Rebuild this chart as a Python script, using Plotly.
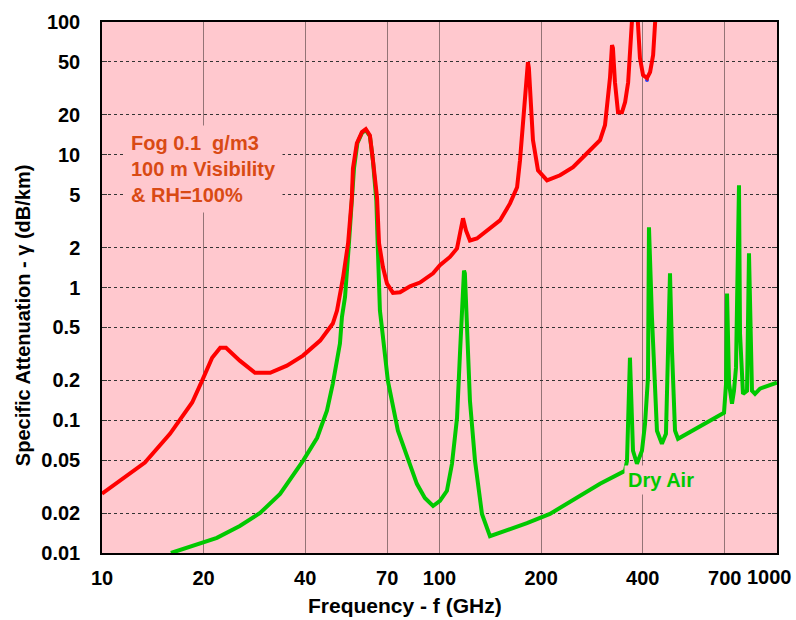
import plotly.graph_objects as go

# Specific attenuation in fog (0.1 g/m3, RH=100%) and in dry air
freq_fog = [10.0, 13.4, 15.9, 18.5, 19.8, 21.2, 22.4, 23.3, 25.6, 28.4, 31.5, 35.3,
            39.4, 44.3, 48.3, 49.7, 51.8, 53.6, 55.0, 55.4, 56.9, 58.9, 60.5, 62.2,
            63.5, 65.3, 66.2, 68.0, 69.9, 72.8, 76.4, 81.8, 87.5, 91.8, 95.7, 100.3,
            107.4, 112.7, 115.1, 117.4, 119.8, 123.1, 129.1, 138.3, 151.1, 161.8,
            169.8, 173.2, 176.6, 180.3, 182.8, 184.0, 186.6, 189.2, 195.8, 208.3,
            227.6, 248.7, 273.5, 299.0, 309.3, 320.0, 324.4, 326.5, 331.0, 338.0,
            347.3, 354.8, 362.2, 366.7, 371.5, 380.0, 387.0, 392.6, 401.0, 412.0,
            420.7, 429.5, 435.5, 445.0]
atten_fog = [0.028, 0.048, 0.079, 0.136, 0.199, 0.296, 0.352, 0.352, 0.281, 0.228,
             0.228, 0.258, 0.307, 0.398, 0.535, 0.67, 1.19, 2.15, 4.78, 7.9, 12.2,
             14.8, 15.6, 14.0, 9.1, 4.78, 2.15, 1.42, 1.07, 0.91, 0.92, 1.02, 1.09,
             1.19, 1.28, 1.47, 1.7, 1.97, 2.69, 3.32, 2.69, 2.26, 2.34, 2.69, 3.2,
             4.3, 5.69, 9.1, 16.1, 34.6, 49.9, 45.0, 25.8, 12.9, 7.64, 6.42, 7.0,
             8.05, 10.26, 12.9, 16.7, 38.0, 67.0, 63.6, 35.2, 20.9, 20.9, 24.9, 35.2,
             63.6, 100.0, 250.0, 100.0, 53.5, 39.8, 37.8, 41.9, 56.4, 100.0, 250.0]

freq_dry = [16.0, 19.5, 21.9, 25.6, 29.4, 33.7, 39.4, 43.4, 46.4, 48.3, 50.7, 51.4,
            52.5, 53.8, 55.3, 55.8, 57.1, 59.0, 60.5, 62.2, 63.5, 65.0, 65.6, 66.6,
            67.5, 70.3, 75.3, 81.8, 85.7, 90.5, 95.7, 100.3, 105.2, 108.9, 112.7,
            115.1, 117.4, 118.2, 118.9, 120.6, 123.1, 127.4, 133.6, 141.1, 151.0,
            181.6, 212.4, 255.3, 299.0, 354.4, 359.4, 366.7, 374.4, 384.6, 398.0,
            406.4, 414.7, 417.5, 426.1, 440.9, 456.0, 468.8, 475.3, 481.9, 488.5,
            498.7, 509.0, 677.8, 696.7, 706.4, 711.2, 721.0, 735.6, 745.7, 756.0,
            771.6, 777.0, 793.0, 815.0, 826.0, 843.0, 860.7, 890.5, 1000.0]
atten_dry = [0.0100, 0.0117, 0.0130, 0.0160, 0.0200, 0.0279, 0.0495, 0.0738, 0.118,
             0.189, 0.378, 0.6, 0.85, 2.0, 4.8, 7.9, 12.2, 14.7, 15.3, 13.8, 9.0, 4.5,
             2.1, 0.67, 0.499, 0.199, 0.0834, 0.047, 0.0332, 0.026, 0.0226, 0.0247,
             0.0294, 0.047, 0.104, 0.335, 0.948, 1.34, 1.28, 0.45, 0.140, 0.0495,
             0.0197, 0.0134, 0.0142, 0.0168, 0.0197, 0.026, 0.0332, 0.0416, 0.0495,
             0.296, 0.0589, 0.047, 0.0589, 0.094, 0.209, 2.84, 0.594, 0.0834, 0.0665,
             0.079, 0.335, 1.28, 0.335, 0.0834, 0.0725, 0.108, 0.114, 0.189, 0.90,
             0.189, 0.133, 0.167, 0.249, 5.89, 0.45, 0.158, 0.167, 1.81, 0.167, 0.158,
             0.173, 0.192]

# Small marker peeking out below the fog curve near the 412 GHz dip
freq_mark = [412.0]
atten_mark = [36.6]

x_ticks = [10, 20, 40, 70, 100, 200, 400, 700, 1000]
x_tick_text = ["10", "20", "40", "70", "100", "200", "400", "700", "1000"]
y_ticks = [0.01, 0.02, 0.05, 0.1, 0.2, 0.5, 1, 2, 5, 10, 20, 50, 100]
y_tick_text = ["0.01", "0.02", "0.05", "0.1", "0.2", "0.5", "1", "2", "5", "10",
               "20", "50", "100"]

FONT = "Liberation Sans, Arial, sans-serif"
PINK = "#FFC8CE"
TICKFONT = dict(family=FONT, size=20, color="#000000", weight="bold")

fig = go.Figure()
fig.add_trace(go.Scatter(x=freq_dry, y=atten_dry, mode="lines",
                         line=dict(color="#00C800", width=4), name="Dry Air"))
fig.add_trace(go.Scatter(x=freq_mark, y=atten_mark, mode="markers",
                         marker=dict(color="#2040FF", size=4), showlegend=False))
fig.add_trace(go.Scatter(x=freq_fog, y=atten_fog, mode="lines",
                         line=dict(color="#FF0000", width=4), name="Fog"))

fig.add_annotation(
    x=0.033, y=0.723, xref="paper", yref="paper", xanchor="left", yanchor="middle",
    align="left", showarrow=False, bgcolor=PINK, borderpad=6,
    text="Fog 0.1\u00a0 g/m3<br>100 m Visibility<br>& RH=100%",
    font=dict(family=FONT, size=20, color="#D94A14", weight="bold"))
fig.add_annotation(
    x=0.828, y=0.137, xref="paper", yref="paper", xanchor="center", yanchor="middle",
    showarrow=False, bgcolor=PINK, borderpad=3, text="Dry Air",
    font=dict(family=FONT, size=20, color="#00C800", weight="bold"))

# The last frequency label sits at the right edge; keep it inside the page
fig.add_annotation(
    x=1.0, y=0, xref="paper", yref="paper", xanchor="right", yanchor="top",
    xshift=17, yshift=-11, showarrow=False, text=x_tick_text[-1], font=TICKFONT)

# Axis titles
fig.add_annotation(
    x=0.449, y=-0.098, xref="paper", yref="paper", xanchor="center", yanchor="middle",
    showarrow=False, text="Frequency - f (GHz)",
    font=dict(family=FONT, size=21, color="#000000", weight="bold"))
fig.add_annotation(
    x=-0.117, y=0.448, xref="paper", yref="paper", xanchor="center", yanchor="middle",
    showarrow=False, textangle=-90, text="Specific Attenuation - \u03b3 (dB/km)",
    font=dict(family=FONT, size=20, color="#000000", weight="bold"))

fig.update_layout(
    width=796, height=620,
    margin=dict(l=102, r=19, t=22, b=67, autoexpand=False),
    paper_bgcolor="#FFFFFF", plot_bgcolor=PINK,
    showlegend=False,
    font=dict(family=FONT, size=20, color="#000000", weight="bold"),
)
fig.update_xaxes(
    type="log", range=[1, 3], tickvals=x_ticks[:-1], ticktext=x_tick_text[:-1],
    showgrid=True, gridcolor="rgba(90,70,70,0.65)", gridwidth=1,
    showline=True, linecolor="#000000", linewidth=1.5, mirror=True,
    ticks="", zeroline=False, ticklabelstandoff=6, automargin=False,
    tickfont=TICKFONT,
)
fig.update_yaxes(
    type="log", range=[-2, 2], tickvals=y_ticks, ticktext=y_tick_text,
    showgrid=True, gridcolor="#333333", gridwidth=1, griddash="dot",
    showline=True, linecolor="#000000", linewidth=1.5, mirror="ticks",
    ticks="inside", ticklen=5, tickcolor="#333333",
    zeroline=False, ticklabelstandoff=16, automargin=False,
    tickfont=TICKFONT,
)

fig.write_html("out.html")
